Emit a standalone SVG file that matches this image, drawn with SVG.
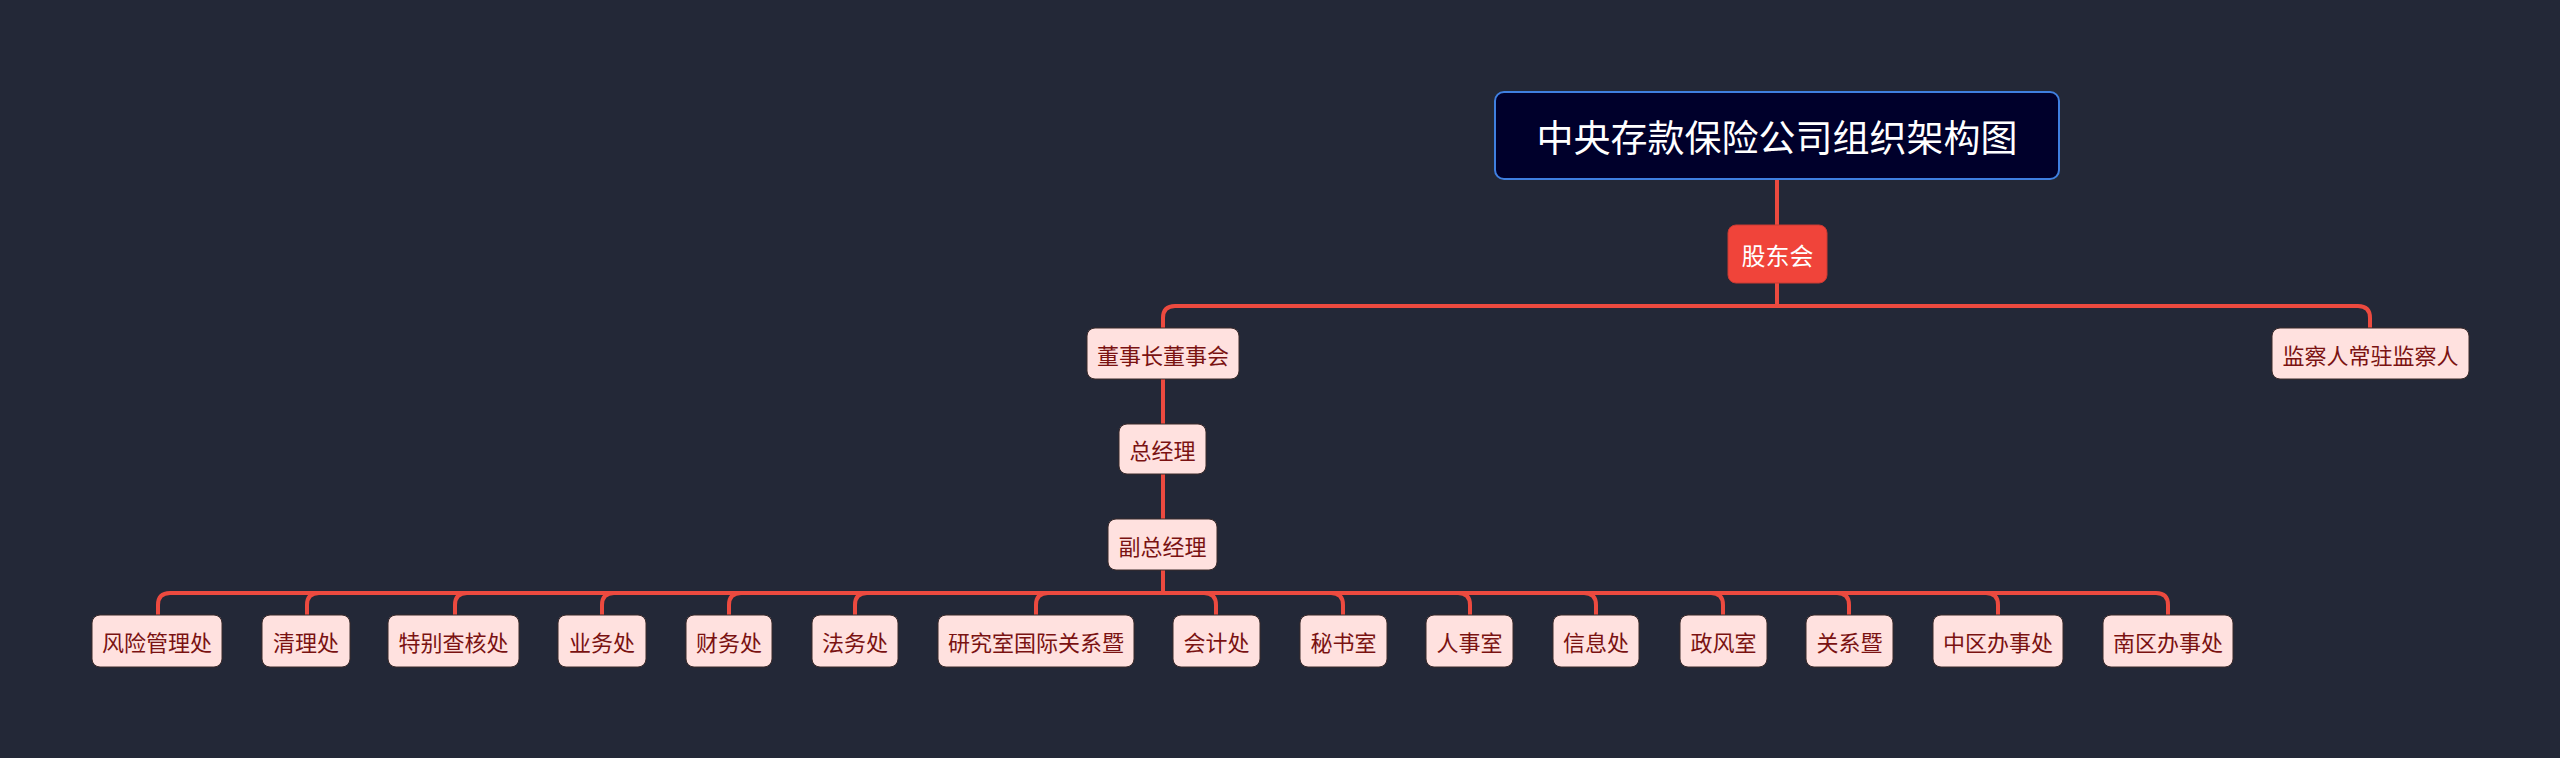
<svg xmlns="http://www.w3.org/2000/svg" width="2560" height="758" viewBox="0 0 2560 758">
<style>
.bg{fill:#232837}
.ln{fill:none;stroke:#ec4a3f;stroke-width:4;stroke-linecap:round;stroke-linejoin:round}
.nd{fill:#ffe1df;stroke:#3a2a2a;stroke-width:1}
.nt{font-family:"Noto Sans CJK SC","Noto Sans",sans-serif;font-size:22px;fill:#7a1212;text-anchor:middle;dominant-baseline:central}
.root{fill:#00002b;stroke:#3f7fe0;stroke-width:2}
.rt{font-family:"Noto Sans CJK SC","Noto Sans",sans-serif;font-size:37px;fill:#ffffff;text-anchor:middle;dominant-baseline:central}
.l1{fill:#f0443a;stroke:#c93a32;stroke-width:1}
.l1t{font-family:"Noto Sans CJK SC","Noto Sans",sans-serif;font-size:24px;fill:#ffffff;text-anchor:middle;dominant-baseline:central}
</style>
<rect class="bg" x="0" y="0" width="2560" height="758"/>
<g id="connectors">
<path class="ln" d="M1777,179 V225"/>
<path class="ln" d="M1777,283 V306 H1175 Q1163,306 1163,318 V328"/>
<path class="ln" d="M1777,306 H2358 Q2370,306 2370,318 V328"/>
<path class="ln" d="M1163,379 V424"/>
<path class="ln" d="M1163,474 V519"/>
<path class="ln" d="M1163,570 V593"/>
<path class="ln" d="M1163,593 H170 Q158,593 158,605 V615"/>
<path class="ln" d="M1163,593 H319 Q307,593 307,605 V615"/>
<path class="ln" d="M1163,593 H467 Q455,593 455,605 V615"/>
<path class="ln" d="M1163,593 H614 Q602,593 602,605 V615"/>
<path class="ln" d="M1163,593 H741 Q729,593 729,605 V615"/>
<path class="ln" d="M1163,593 H867 Q855,593 855,605 V615"/>
<path class="ln" d="M1163,593 H1048 Q1036,593 1036,605 V615"/>
<path class="ln" d="M1163,593 H1204 Q1216,593 1216,605 V615"/>
<path class="ln" d="M1163,593 H1331 Q1343,593 1343,605 V615"/>
<path class="ln" d="M1163,593 H1458 Q1470,593 1470,605 V615"/>
<path class="ln" d="M1163,593 H1584 Q1596,593 1596,605 V615"/>
<path class="ln" d="M1163,593 H1711 Q1723,593 1723,605 V615"/>
<path class="ln" d="M1163,593 H1837 Q1849,593 1849,605 V615"/>
<path class="ln" d="M1163,593 H1986 Q1998,593 1998,605 V615"/>
<path class="ln" d="M1163,593 H2156 Q2168,593 2168,605 V615"/>
</g>
<g id="root"><rect class="root" x="1495" y="92" width="564" height="87" rx="9"/><text class="rt" x="1777" y="136">中央存款保险公司组织架构图</text></g>
<g id="gudonghui"><rect class="l1" x="1728" y="225" width="99" height="58" rx="8"/><text class="l1t" x="1777.5" y="254">股东会</text></g>
<g id="dongshi"><rect class="nd" x="1087" y="328" width="152" height="51" rx="8"/><text class="nt" x="1163" y="353.5">董事长董事会</text></g>
<g id="jiancha"><rect class="nd" x="2272" y="328" width="197" height="51" rx="8"/><text class="nt" x="2370.5" y="353.5">监察人常驻监察人</text></g>
<g id="zongjingli"><rect class="nd" x="1119" y="424" width="87" height="50" rx="8"/><text class="nt" x="1162.5" y="449">总经理</text></g>
<g id="fuzong"><rect class="nd" x="1108" y="519" width="109" height="51" rx="8"/><text class="nt" x="1162.5" y="544.5">副总经理</text></g>
<g id="n1"><rect class="nd" x="92" y="615" width="130" height="52" rx="8"/><text class="nt" x="157" y="641">风险管理处</text></g>
<g id="n2"><rect class="nd" x="262" y="615" width="88" height="52" rx="8"/><text class="nt" x="306" y="641">清理处</text></g>
<g id="n3"><rect class="nd" x="388" y="615" width="131" height="52" rx="8"/><text class="nt" x="453.5" y="641">特别查核处</text></g>
<g id="n4"><rect class="nd" x="558" y="615" width="88" height="52" rx="8"/><text class="nt" x="602" y="641">业务处</text></g>
<g id="n5"><rect class="nd" x="686" y="615" width="86" height="52" rx="8"/><text class="nt" x="729" y="641">财务处</text></g>
<g id="n6"><rect class="nd" x="812" y="615" width="86" height="52" rx="8"/><text class="nt" x="855" y="641">法务处</text></g>
<g id="n7"><rect class="nd" x="938" y="615" width="196" height="52" rx="8"/><text class="nt" x="1036" y="641">研究室国际关系暨</text></g>
<g id="n8"><rect class="nd" x="1173" y="615" width="87" height="52" rx="8"/><text class="nt" x="1216.5" y="641">会计处</text></g>
<g id="n9"><rect class="nd" x="1300" y="615" width="87" height="52" rx="8"/><text class="nt" x="1343.5" y="641">秘书室</text></g>
<g id="n10"><rect class="nd" x="1426" y="615" width="87" height="52" rx="8"/><text class="nt" x="1469.5" y="641">人事室</text></g>
<g id="n11"><rect class="nd" x="1553" y="615" width="86" height="52" rx="8"/><text class="nt" x="1596" y="641">信息处</text></g>
<g id="n12"><rect class="nd" x="1680" y="615" width="87" height="52" rx="8"/><text class="nt" x="1723.5" y="641">政风室</text></g>
<g id="n13"><rect class="nd" x="1806" y="615" width="87" height="52" rx="8"/><text class="nt" x="1849.5" y="641">关系暨</text></g>
<g id="n14"><rect class="nd" x="1933" y="615" width="130" height="52" rx="8"/><text class="nt" x="1998" y="641">中区办事处</text></g>
<g id="n15"><rect class="nd" x="2103" y="615" width="130" height="52" rx="8"/><text class="nt" x="2168" y="641">南区办事处</text></g>
</svg>
